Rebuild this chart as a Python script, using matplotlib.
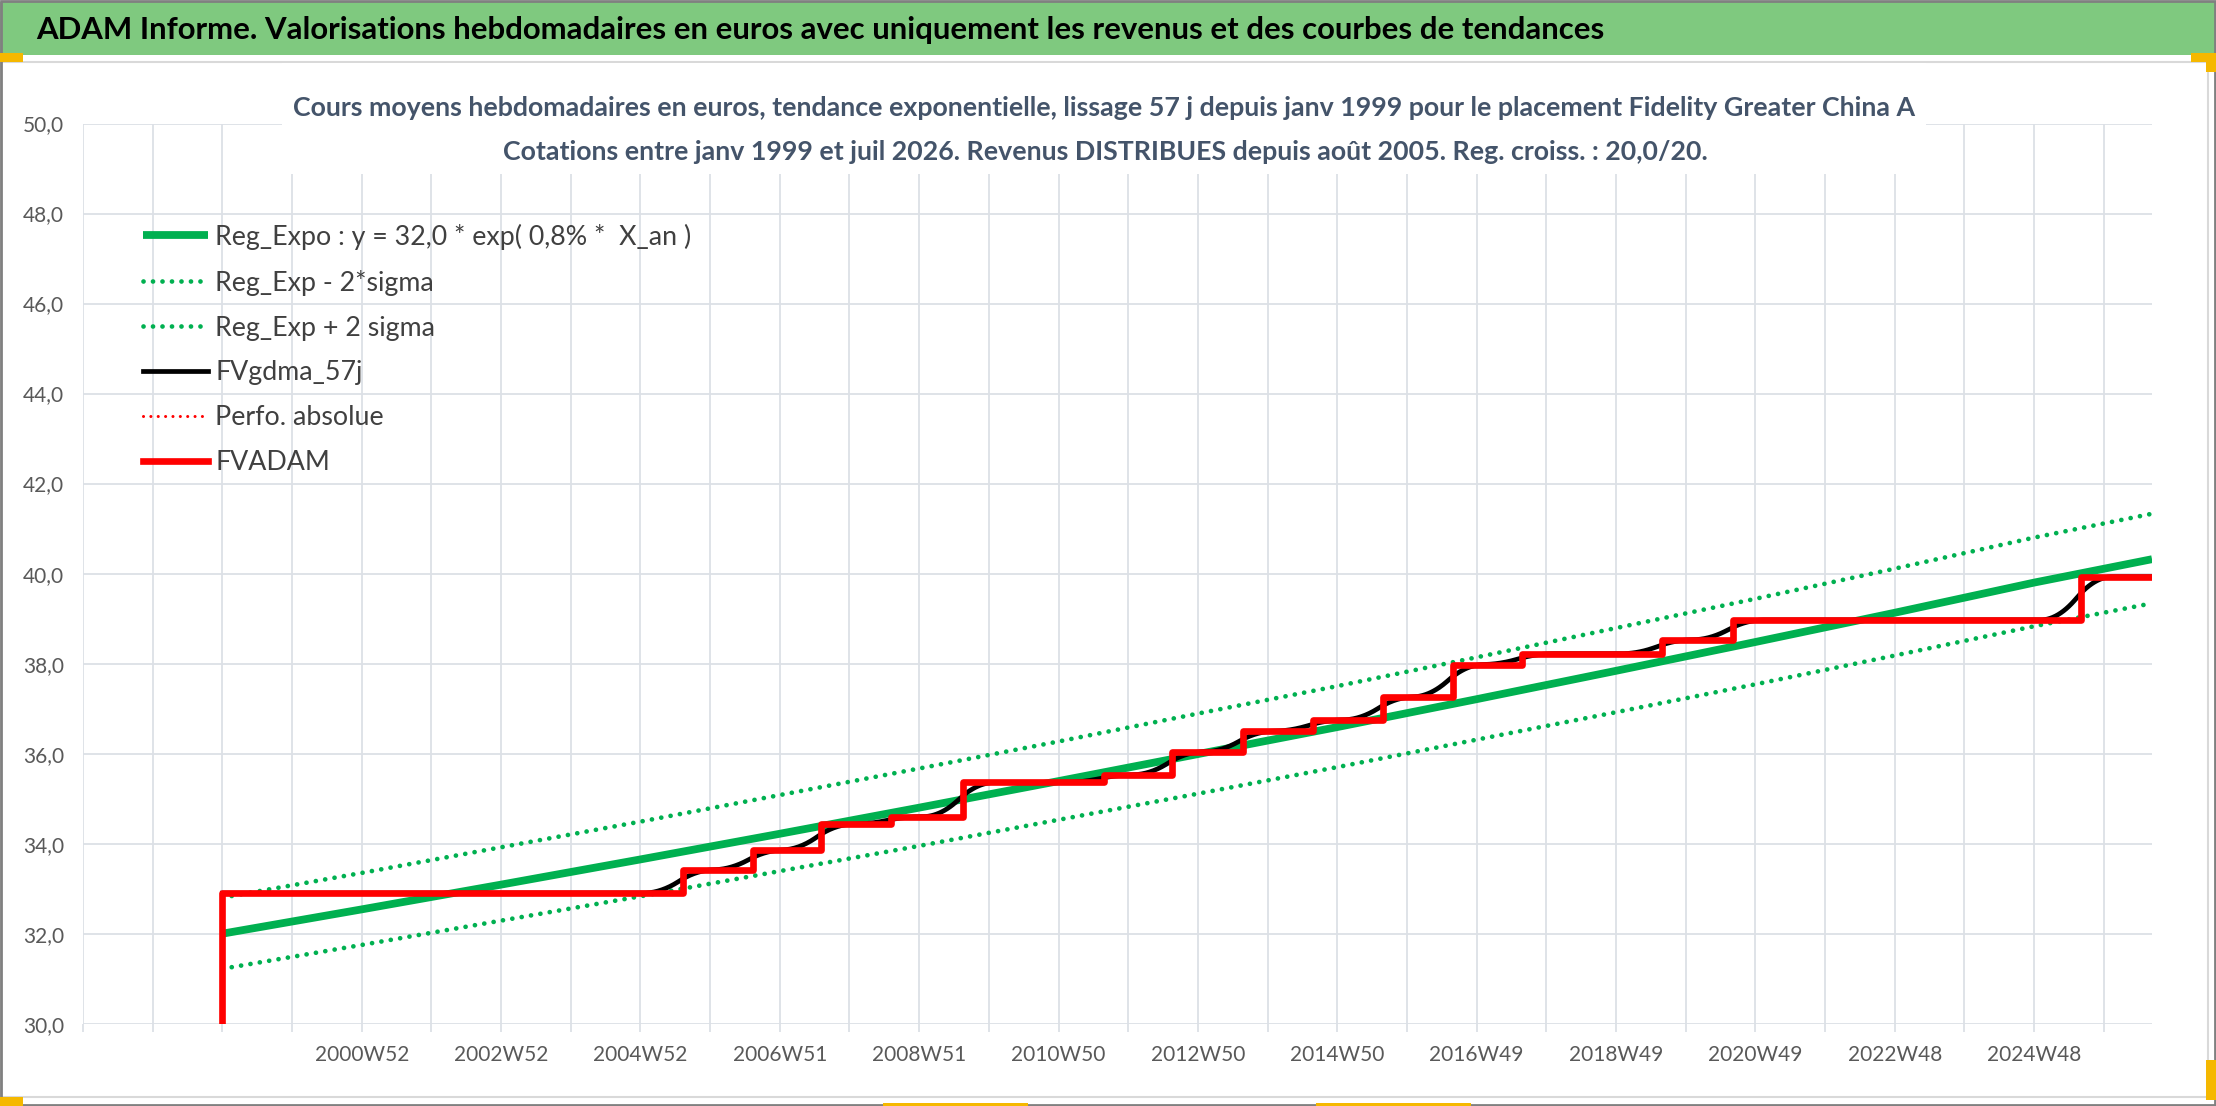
import matplotlib
matplotlib.use("Agg")
import matplotlib.pyplot as plt
from matplotlib.patches import Rectangle
import numpy as np

plt.rcParams['font.family'] = ['Lato', 'DejaVu Sans']

# ---------------- data ----------------
title = "ADAM Informe. Valorisations hebdomadaires en euros avec uniquement les revenus et des courbes de tendances"
subtitle1 = ("Cours moyens hebdomadaires en euros, tendance exponentielle, lissage 57 j depuis janv 1999 "
             "pour le placement Fidelity Greater China A")
subtitle2 = ("Cotations entre janv 1999 et juil 2026. Revenus DISTRIBUES depuis août 2005. "
             "Reg. croiss. : 20,0/20.")

# weeks counted from the first quote (janv 1999); the category axis starts 104 weeks earlier
axis_start_week = -104
last_week = 1440

reg_weeks = [0, 104, 208, 312, 416, 520, 624, 728, 832, 936, 1040, 1144, 1248, 1352, 1440]
reg_expo = [32.00, 32.54, 33.09, 33.65, 34.22, 34.80, 35.39, 35.99, 36.59, 37.21, 37.84, 38.48, 39.13, 39.80, 40.32]
reg_minus = [31.22, 31.75, 32.29, 32.83, 33.39, 33.95, 34.53, 35.11, 35.70, 36.31, 36.92, 37.54, 38.18, 38.83, 39.34]
reg_plus = [32.80, 33.35, 33.92, 34.49, 35.08, 35.67, 36.27, 36.89, 37.50, 38.14, 38.79, 39.44, 40.11, 40.80, 41.33]

fvadam_first = 30.0
fvadam_weeks = [0, 344, 396, 447, 499, 553, 658, 709, 762, 814, 866, 918, 970, 1074, 1127, 1387]
fvadam_levels = [32.90, 33.42, 33.86, 34.43, 34.60, 35.36, 35.53, 36.04, 36.50, 36.75, 37.26,
                 37.98, 38.22, 38.53, 38.97, 39.93]

label_weeks = [104, 208, 312, 416, 520, 624, 728, 832, 936, 1040, 1144, 1248, 1352]
label_texts = ["2000W52", "2002W52", "2004W52", "2006W51", "2008W51", "2010W50", "2012W50",
               "2014W50", "2016W49", "2018W49", "2020W49", "2022W48", "2024W48"]

legend_labels = ["Reg_Expo : y = 32,0 * exp( 0,8% *  X_an )", "Reg_Exp - 2*sigma",
                 "Reg_Exp + 2 sigma", "FVgdma_57j", "Perfo. absolue", "FVADAM"]

# ---------------- figure ----------------
W, H = 2216, 1106
fig = plt.figure(figsize=(W / 100, H / 100), dpi=100)
fig.patch.set_facecolor("white")


def fx(px):
    return px / W


def fy(py):
    return 1 - py / H


renderer = fig.canvas.get_renderer()


def fit_size(text, target_px, base=20, **kw):
    t = fig.text(0, 0, text, fontsize=base, **kw)
    w = t.get_window_extent(renderer=renderer).width
    t.remove()
    return base * target_px / w


GRID = "#DCE0E6"
TXT = "#595959"

# chart area frame
fig.add_artist(Rectangle((fx(1), fy(1097)), fx(2208) - fx(1), (1097 - 62) / H, transform=fig.transFigure,
                         fill=False, edgecolor="#D9D9D9", lw=1.5, zorder=0.5))
# green title band
fig.add_artist(Rectangle((0, fy(55)), 1, 53 / H, transform=fig.transFigure,
                         facecolor="#7FC97F", edgecolor="none", zorder=1))
# outer border
fig.add_artist(Rectangle((0.0005, 0.001), 0.999, 0.998, transform=fig.transFigure,
                         fill=False, edgecolor="#808080", lw=2, zorder=5))
# selection handles
for (x0, y0, x1, y1) in [(0, 53, 23, 62), (2191, 53, 2216, 62), (2206, 53, 2216, 72),
                         (0, 1097, 23, 1106), (883, 1103, 1028, 1106), (1316, 1103, 1471, 1106),
                         (2206, 1060, 2216, 1100)]:
    fig.add_artist(Rectangle((fx(x0), fy(y1)), fx(x1) - fx(x0), (y1 - y0) / H, transform=fig.transFigure,
                             facecolor="#F5B800", edgecolor="none", zorder=6))

fs_title = fit_size(title, 1568, weight="bold")
fig.text(fx(36), fy(30), title, fontsize=fs_title, weight="bold", color="black",
         ha="left", va="center", zorder=3)

# ---------------- axes ----------------
ax = fig.add_axes([fx(83), fy(1023.7), fx(2152) - fx(83), (1023.7 - 123.5) / H])
ax.set_xlim(axis_start_week, last_week)
ax.set_ylim(30, 50)
for s in ax.spines.values():
    s.set_visible(False)

yt = np.arange(30, 50.1, 2)
ax.set_yticks(yt)
ax.set_yticklabels([f"{v:.1f}".replace(".", ",") for v in yt])
xt = np.arange(axis_start_week, last_week + 1, 52)
ax.set_xticks(xt)
lab_map = dict(zip(label_weeks, label_texts))
ax.set_xticklabels([lab_map.get(int(v), "") for v in xt])
ax.grid(True, color=GRID, lw=1.3)
ax.set_axisbelow(True)
ax.tick_params(axis="y", length=0, pad=13.5, labelsize=15, labelcolor=TXT)
ax.tick_params(axis="x", length=6, width=1.3, color=GRID, pad=9, labelsize=15, labelcolor=TXT)

green = "#00B050"
dots = (0, (0.01, 2.0))
l1, = ax.plot(reg_weeks, reg_expo, color=green, lw=5.6, solid_capstyle="butt", zorder=2)
l2, = ax.plot(reg_weeks, reg_minus, color=green, lw=3.4, linestyle=dots,
              dash_capstyle="round", zorder=3)
l3, = ax.plot(reg_weeks, reg_plus, color=green, lw=3.4, linestyle=dots,
              dash_capstyle="round", zorder=3)

# 57-day smoothing of the distributed-income valuation (FVgdma_57j)
weeks = np.arange(0, last_week + 1)
lvl = np.array(fvadam_levels)[np.searchsorted(fvadam_weeks, weeks, side="right") - 1]
kern = np.convolve(np.ones(27), np.ones(27))
kern /= kern.sum()
lead = 3
padded = np.pad(lvl, (26, 26 + lead), mode="edge")
smooth = np.convolve(padded, kern, mode="valid")[lead:lead + len(weeks)]
l4, = ax.plot(weeks, smooth, color="black", lw=3.4, zorder=4)

l5, = ax.plot([], [], color="#FF0000", lw=2.2, linestyle=(0, (0.01, 2.4)), dash_capstyle="round")

xs = [0] + fvadam_weeks + [last_week]
ys = [fvadam_first] + fvadam_levels + [fvadam_levels[-1]]
l6, = ax.step(xs, ys, where="post", color="#FF0000", lw=4.8, zorder=5)

# legend
fs_leg = fit_size(legend_labels[0], 475)
fpx = fs_leg * 100 / 72
tmp = fig.text(0, 0, legend_labels[0], fontsize=fs_leg)
h_row = tmp.get_window_extent(renderer=renderer).height
tmp.remove()
leg = ax.legend([l1, l2, l3, l4, l5, l6], legend_labels, loc="upper left",
                bbox_to_anchor=(fx(143), fy(236.7 - h_row / 2)), bbox_transform=fig.transFigure,
                frameon=False, fontsize=fs_leg, labelcolor="#404040",
                handlelength=65 / fpx, handletextpad=7 / fpx,
                labelspacing=(46 - h_row) / fpx, borderpad=0, borderaxespad=0)

# white box behind the subtitle (hides grid like the original)
fig.add_artist(Rectangle((fx(282), fy(174)), fx(1926) - fx(282), (174 - 63) / H, transform=fig.transFigure,
                         facecolor="white", edgecolor="none", zorder=2))
fs_sub = fit_size(subtitle1, 1628, weight="bold")
fig.text(fx(1104), fy(108), subtitle1, fontsize=fs_sub, weight="bold", color="#44546A",
         ha="center", va="center", zorder=3)
fig.text(fx(1105), fy(152), subtitle2, fontsize=fs_sub, weight="bold", color="#44546A",
         ha="center", va="center", zorder=3)

fig.savefig("out.png", dpi=100, facecolor="white")
